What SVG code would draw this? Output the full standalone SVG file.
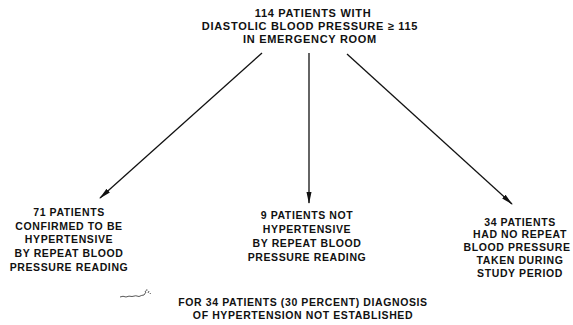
<svg xmlns="http://www.w3.org/2000/svg" width="573" height="325" viewBox="0 0 573 325">
<style>
text{font-family:"Liberation Sans",Arial,sans-serif;font-weight:bold;fill:#111;text-anchor:middle}
.t{font-size:11px;letter-spacing:0.7px}
.b{font-size:10.5px;letter-spacing:0.6px}
.c{stroke:#111;stroke-width:1.3;fill:none}
</style>
<defs>
<marker id="ah" viewBox="0 0 12 6" refX="11" refY="3" markerWidth="12" markerHeight="6" markerUnits="userSpaceOnUse" orient="auto">
<path d="M0,0.5 L12,3 L0,5.5 Z" fill="#111"/>
</marker>
</defs>
<rect width="573" height="325" fill="#fff"/>
<g id="top">
<text class="t" x="313" y="17">114 PATIENTS WITH</text>
<text class="t" x="310" y="30">DIASTOLIC BLOOD PRESSURE ≥ 115</text>
<text class="t" x="310" y="43">IN EMERGENCY ROOM</text>
</g>
<g id="connectors">
<line class="c" x1="262" y1="53" x2="100" y2="198" marker-end="url(#ah)"/>
<line class="c" x1="309" y1="53" x2="309" y2="203" marker-end="url(#ah)"/>
<line class="c" x1="347" y1="54" x2="512" y2="204" marker-end="url(#ah)"/>
</g>
<g id="left">
<text class="b" x="69" y="216">71 PATIENTS</text>
<text class="b" x="69" y="230">CONFIRMED TO BE</text>
<text class="b" x="69" y="243">HYPERTENSIVE</text>
<text class="b" x="69" y="257">BY REPEAT BLOOD</text>
<text class="b" x="69" y="271">PRESSURE READING</text>
</g>
<g id="middle">
<text class="b" x="307" y="219">9 PATIENTS NOT</text>
<text class="b" x="307" y="233">HYPERTENSIVE</text>
<text class="b" x="307" y="247">BY REPEAT BLOOD</text>
<text class="b" x="307" y="261">PRESSURE READING</text>
</g>
<g id="right">
<text class="b" x="520" y="226">34 PATIENTS</text>
<text class="b" x="520" y="238">HAD NO REPEAT</text>
<text class="b" x="517" y="251">BLOOD PRESSURE</text>
<text class="b" x="520" y="264">TAKEN DURING</text>
<text class="b" x="520" y="277">STUDY PERIOD</text>
</g>
<g id="note">
<path d="M120,297 q3,-1.5 6,0 q3,-1.5 6,-0.5 q4,-1.5 7,0 q3,-1.5 5,-1.5 l2,-3 M145,292 l1,-1.5 M148,293 l1,-2 M146,290 l1.5,0 M150,294 l0.5,-1" stroke="#444" stroke-width="0.9" fill="none"/>
<text class="b" x="303" y="306">FOR 34 PATIENTS (30 PERCENT) DIAGNOSIS</text>
<text class="b" x="303" y="319">OF HYPERTENSION NOT ESTABLISHED</text>
</g>
</svg>
